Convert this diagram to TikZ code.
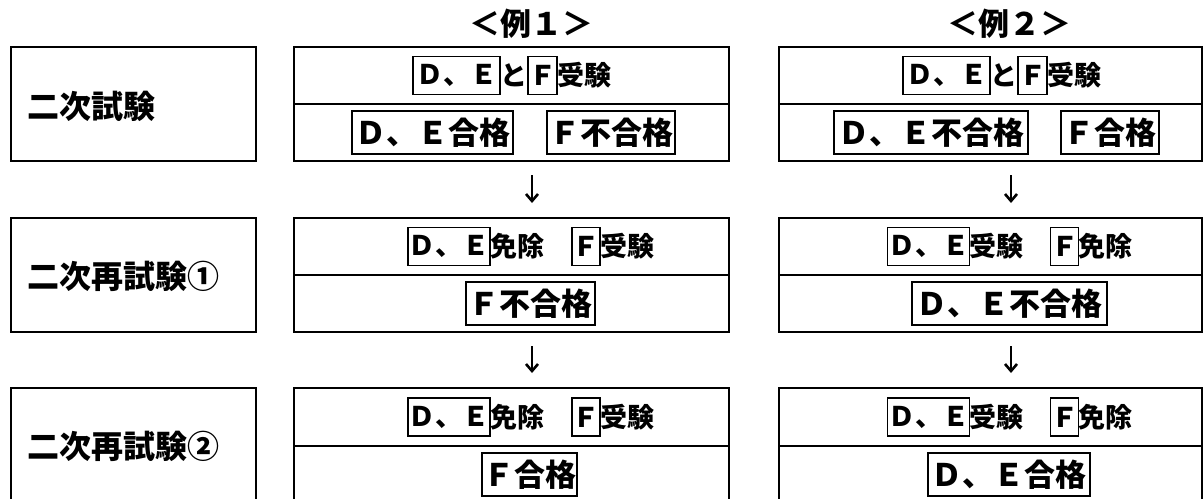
\documentclass[tikz,border=0pt]{standalone}
\usepackage{fontspec}
\setmainfont{Noto Sans CJK JP}
\usetikzlibrary{arrows.meta}
\tikzset{
  frame/.style={draw, line width=2.4pt, rectangle, inner sep=0pt, outer sep=0pt},
  labT/.style={draw, line width=1.3pt, rectangle, inner sep=0pt, minimum height=38pt, font=\fontsize{27}{27}\selectfont\bfseries},
  txtT/.style={inner sep=0pt, font=\fontsize{27}{27}\selectfont\bfseries},
  labB/.style={draw, line width=1.3pt, rectangle, inner sep=0pt, minimum height=43pt, font=\fontsize{31}{31}\selectfont\bfseries},
  side/.style={inner sep=0pt, anchor=west, font=\fontsize{32}{32}\selectfont\bfseries},
  ttl/.style={inner sep=0pt, font=\fontsize{31}{31}\selectfont\bfseries},
  arr/.style={line width=2.6pt, -{Straight Barb[length=7pt,width=12pt]}, shorten <=14pt, shorten >=15pt}
}
\begin{document}
\begin{tikzpicture}[x=1pt,y=-1pt]
\useasboundingbox (0,0) rectangle (1204,498);
% titles
\node[ttl] (t1) at (531,24) {＜例１＞};
\node[ttl] (t2) at (1009,24) {＜例２＞};
% left column
\node[frame, minimum width=245pt, minimum height=114pt] (l1) at (133.5,104) {};
\node[frame, minimum width=245pt, minimum height=114pt] (l2) at (133.5,275) {};
\node[frame, minimum width=245pt, minimum height=116pt] (l3) at (133.5,446) {};
\node[side] (l1t) at (27,106) {二次試験};
\node[side] (l2t) at (27,276) {二次再試験①};
\node[side] (l3t) at (27,446) {二次再試験②};
% middle column frames
\node[frame, minimum width=435pt, minimum height=57pt] (m1t) at (511.5,75.5) {};
\node[frame, minimum width=435pt, minimum height=57pt] (m1b) at (511.5,132.5) {};
\node[frame, minimum width=435pt, minimum height=57pt] (m2t) at (511.5,246.5) {};
\node[frame, minimum width=435pt, minimum height=57pt] (m2b) at (511.5,303.5) {};
\node[frame, minimum width=435pt, minimum height=58pt] (m3t) at (511.5,417) {};
\node[frame, minimum width=435pt, minimum height=58pt] (m3b) at (511.5,475) {};
% right column frames
\node[frame, minimum width=423pt, minimum height=57pt] (r1t) at (990.5,75.5) {};
\node[frame, minimum width=423pt, minimum height=57pt] (r1b) at (990.5,132.5) {};
\node[frame, minimum width=423pt, minimum height=57pt] (r2t) at (990.5,246.5) {};
\node[frame, minimum width=423pt, minimum height=57pt] (r2b) at (990.5,303.5) {};
\node[frame, minimum width=423pt, minimum height=58pt] (r3t) at (990.5,417) {};
\node[frame, minimum width=423pt, minimum height=58pt] (r3b) at (990.5,475) {};
% row 1 top
\node[labT, minimum width=87pt] (m1a) at (456.5,75.5) {Ｄ、Ｅ};
\node[txtT] (m1to) at (514,75.5) {と};
\node[labT, minimum width=29pt] (m1f) at (542.5,75.5) {Ｆ};
\node[txtT, anchor=west] (m1j) at (557.5,75.5) {受験};
\node[labT, minimum width=87pt] (r1a) at (946.5,75.5) {Ｄ、Ｅ};
\node[txtT] (r1to) at (1004,75.5) {と};
\node[labT, minimum width=29pt] (r1f) at (1032.5,75.5) {Ｆ};
\node[txtT, anchor=west] (r1j) at (1047.5,75.5) {受験};
% row 1 bottom
\node[labB, minimum width=161pt] (m1p) at (432.5,132.5) {Ｄ、Ｅ合格};
\node[labB, minimum width=128pt] (m1q) at (611,132.5) {Ｆ不合格};
\node[labB, minimum width=194pt] (r1p) at (931,132.5) {Ｄ、Ｅ不合格};
\node[labB, minimum width=98pt] (r1q) at (1110,132.5) {Ｆ合格};
% row 2 top
\node[labT, minimum width=82pt] (m2a) at (449,246.5) {Ｄ、Ｅ};
\node[txtT, anchor=west] (m2m) at (490.5,246.5) {免除};
\node[labT, minimum width=28pt] (m2f) at (586,246.5) {Ｆ};
\node[txtT, anchor=west] (m2j) at (600.5,246.5) {受験};
\node[labT, minimum width=82pt] (r2a) at (928.5,246.5) {Ｄ、Ｅ};
\node[txtT, anchor=west] (r2j) at (969.5,246.5) {受験};
\node[labT, minimum width=28pt] (r2f) at (1064.5,246.5) {Ｆ};
\node[txtT, anchor=west] (r2m) at (1078.5,246.5) {免除};
% row 2 bottom
\node[labB, minimum width=129pt] (m2p) at (530.5,303.5) {Ｆ不合格};
\node[labB, minimum width=195pt] (r2p) at (1009.5,303.5) {Ｄ、Ｅ不合格};
% row 3 top
\node[labT, minimum width=82pt] (m3a) at (449,417) {Ｄ、Ｅ};
\node[txtT, anchor=west] (m3m) at (490.5,417) {免除};
\node[labT, minimum width=28pt] (m3f) at (586,417) {Ｆ};
\node[txtT, anchor=west] (m3j) at (600.5,417) {受験};
\node[labT, minimum width=82pt] (r3a) at (928.5,417) {Ｄ、Ｅ};
\node[txtT, anchor=west] (r3j) at (969.5,417) {受験};
\node[labT, minimum width=28pt] (r3f) at (1064.5,417) {Ｆ};
\node[txtT, anchor=west] (r3m) at (1078.5,417) {免除};
% row 3 bottom
\node[labB, minimum width=95pt] (m3p) at (529.5,474.5) {Ｆ合格};
\node[labB, minimum width=162pt] (r3p) at (1009,474.5) {Ｄ、Ｅ合格};
% arrows
\draw[arr] ([xshift=20.5pt]m1b.south) -- ([xshift=20.5pt]m2t.north);
\draw[arr] ([xshift=20.5pt]m2b.south) -- ([xshift=20.5pt]m3t.north);
\draw[arr] ([xshift=20.5pt]r1b.south) -- ([xshift=20.5pt]r2t.north);
\draw[arr] ([xshift=20.5pt]r2b.south) -- ([xshift=20.5pt]r3t.north);
\end{tikzpicture}
\end{document}
